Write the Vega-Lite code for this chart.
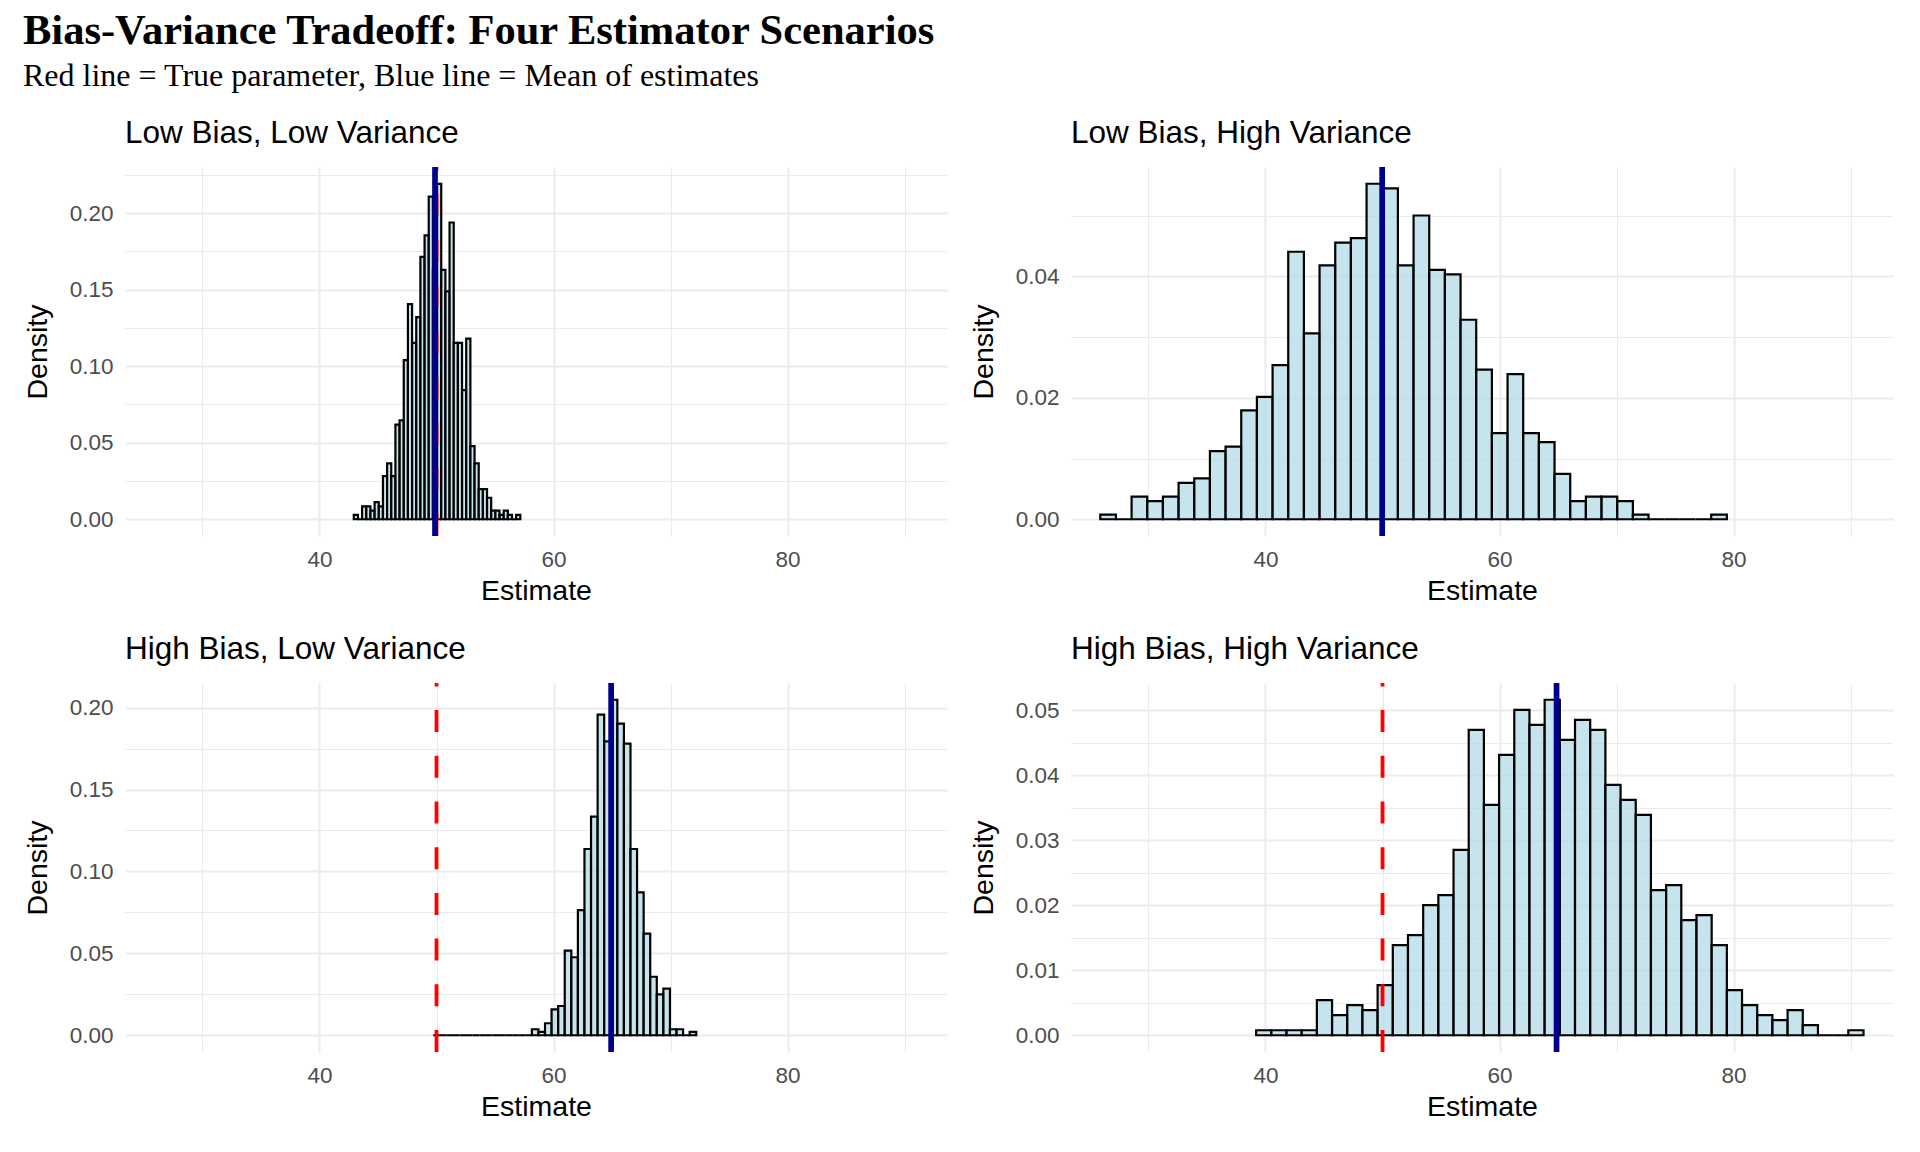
{
  "$schema": "https://vega.github.io/schema/vega-lite/v6.json",
  "background": "white",
  "padding": {"left": 23, "top": 10, "right": 10, "bottom": 10},
  "title": {
    "text": "Bias-Variance Tradeoff: Four Estimator Scenarios",
    "subtitle": "Red line = True parameter, Blue line = Mean of estimates",
    "anchor": "start",
    "frame": "bounds",
    "font": "Liberation Serif",
    "fontSize": 42.5,
    "fontWeight": "bold",
    "color": "black",
    "subtitleFont": "Liberation Serif",
    "subtitleFontSize": 32,
    "subtitleColor": "black",
    "subtitlePadding": 8,
    "offset": 26
  },
  "datasets": {
    "lines": [
      {"p": "LL", "t": 50, "m": 49.87},
      {"p": "LH", "t": 50, "m": 49.97},
      {"p": "HL", "t": 50, "m": 64.92},
      {"p": "HH", "t": 50, "m": 64.87}
    ],
    "bars": [
      {"p":"LL","x1":42.930,"x2":43.286,"d":0.00281},
      {"p":"LL","x1":43.286,"x2":43.642,"d":0},
      {"p":"LL","x1":43.642,"x2":43.997,"d":0.00843},
      {"p":"LL","x1":43.997,"x2":44.353,"d":0.00843},
      {"p":"LL","x1":44.353,"x2":44.709,"d":0.00562},
      {"p":"LL","x1":44.709,"x2":45.065,"d":0.01124},
      {"p":"LL","x1":45.065,"x2":45.421,"d":0.00843},
      {"p":"LL","x1":45.421,"x2":45.776,"d":0.02811},
      {"p":"LL","x1":45.776,"x2":46.132,"d":0.03654},
      {"p":"LL","x1":46.132,"x2":46.488,"d":0.02811},
      {"p":"LL","x1":46.488,"x2":46.844,"d":0.06183},
      {"p":"LL","x1":46.844,"x2":47.200,"d":0.06464},
      {"p":"LL","x1":47.200,"x2":47.555,"d":0.10399},
      {"p":"LL","x1":47.555,"x2":47.911,"d":0.14053},
      {"p":"LL","x1":47.911,"x2":48.267,"d":0.11523},
      {"p":"LL","x1":48.267,"x2":48.623,"d":0.1321},
      {"p":"LL","x1":48.623,"x2":48.979,"d":0.17145},
      {"p":"LL","x1":48.979,"x2":49.334,"d":0.1855},
      {"p":"LL","x1":49.334,"x2":49.690,"d":0.2108},
      {"p":"LL","x1":49.690,"x2":50.046,"d":0.16301},
      {"p":"LL","x1":50.046,"x2":50.402,"d":0.21923},
      {"p":"LL","x1":50.402,"x2":50.758,"d":0.16301},
      {"p":"LL","x1":50.758,"x2":51.113,"d":0.14896},
      {"p":"LL","x1":51.113,"x2":51.469,"d":0.19393},
      {"p":"LL","x1":51.469,"x2":51.825,"d":0.11523},
      {"p":"LL","x1":51.825,"x2":52.181,"d":0.11523},
      {"p":"LL","x1":52.181,"x2":52.537,"d":0.08432},
      {"p":"LL","x1":52.537,"x2":52.892,"d":0.11805},
      {"p":"LL","x1":52.892,"x2":53.248,"d":0.04778},
      {"p":"LL","x1":53.248,"x2":53.604,"d":0.03654},
      {"p":"LL","x1":53.604,"x2":53.960,"d":0.01967},
      {"p":"LL","x1":53.960,"x2":54.316,"d":0.01967},
      {"p":"LL","x1":54.316,"x2":54.671,"d":0.01405},
      {"p":"LL","x1":54.671,"x2":55.027,"d":0.00562},
      {"p":"LL","x1":55.027,"x2":55.383,"d":0.00562},
      {"p":"LL","x1":55.383,"x2":55.739,"d":0.00281},
      {"p":"LL","x1":55.739,"x2":56.095,"d":0.00562},
      {"p":"LL","x1":56.095,"x2":56.450,"d":0.00281},
      {"p":"LL","x1":56.450,"x2":56.806,"d":0},
      {"p":"LL","x1":56.806,"x2":57.162,"d":0.00281},

      {"p":"LH","x1":25.880,"x2":27.219,"d":0.00075},
      {"p":"LH","x1":27.219,"x2":28.557,"d":0},
      {"p":"LH","x1":28.557,"x2":29.896,"d":0.00374},
      {"p":"LH","x1":29.896,"x2":31.234,"d":0.00299},
      {"p":"LH","x1":31.234,"x2":32.573,"d":0.00374},
      {"p":"LH","x1":32.573,"x2":33.912,"d":0.00598},
      {"p":"LH","x1":33.912,"x2":35.250,"d":0.00672},
      {"p":"LH","x1":35.250,"x2":36.589,"d":0.01121},
      {"p":"LH","x1":36.589,"x2":37.927,"d":0.01195},
      {"p":"LH","x1":37.927,"x2":39.266,"d":0.01793},
      {"p":"LH","x1":39.266,"x2":40.605,"d":0.02017},
      {"p":"LH","x1":40.605,"x2":41.943,"d":0.0254},
      {"p":"LH","x1":41.943,"x2":43.282,"d":0.04408},
      {"p":"LH","x1":43.282,"x2":44.620,"d":0.03063},
      {"p":"LH","x1":44.620,"x2":45.959,"d":0.04183},
      {"p":"LH","x1":45.959,"x2":47.298,"d":0.04557},
      {"p":"LH","x1":47.298,"x2":48.636,"d":0.04632},
      {"p":"LH","x1":48.636,"x2":49.975,"d":0.05528},
      {"p":"LH","x1":49.975,"x2":51.313,"d":0.05453},
      {"p":"LH","x1":51.313,"x2":52.652,"d":0.04183},
      {"p":"LH","x1":52.652,"x2":53.991,"d":0.05005},
      {"p":"LH","x1":53.991,"x2":55.329,"d":0.04109},
      {"p":"LH","x1":55.329,"x2":56.668,"d":0.04034},
      {"p":"LH","x1":56.668,"x2":58.006,"d":0.03287},
      {"p":"LH","x1":58.006,"x2":59.345,"d":0.02465},
      {"p":"LH","x1":59.345,"x2":60.684,"d":0.01419},
      {"p":"LH","x1":60.684,"x2":62.022,"d":0.02391},
      {"p":"LH","x1":62.022,"x2":63.361,"d":0.01419},
      {"p":"LH","x1":63.361,"x2":64.699,"d":0.0127},
      {"p":"LH","x1":64.699,"x2":66.038,"d":0.00747},
      {"p":"LH","x1":66.038,"x2":67.377,"d":0.00299},
      {"p":"LH","x1":67.377,"x2":68.715,"d":0.00374},
      {"p":"LH","x1":68.715,"x2":70.054,"d":0.00374},
      {"p":"LH","x1":70.054,"x2":71.392,"d":0.00299},
      {"p":"LH","x1":71.392,"x2":72.731,"d":0.00075},
      {"p":"LH","x1":72.731,"x2":74.070,"d":0},
      {"p":"LH","x1":74.070,"x2":75.408,"d":0},
      {"p":"LH","x1":75.408,"x2":76.747,"d":0},
      {"p":"LH","x1":76.747,"x2":78.085,"d":0},
      {"p":"LH","x1":78.085,"x2":79.424,"d":0.00075},

      {"p":"HL","x1":49.720,"x2":50.282,"d":0},
      {"p":"HL","x1":50.282,"x2":50.844,"d":0},
      {"p":"HL","x1":50.844,"x2":51.405,"d":0},
      {"p":"HL","x1":51.405,"x2":51.967,"d":0},
      {"p":"HL","x1":51.967,"x2":52.529,"d":0},
      {"p":"HL","x1":52.529,"x2":53.091,"d":0},
      {"p":"HL","x1":53.091,"x2":53.653,"d":0},
      {"p":"HL","x1":53.653,"x2":54.214,"d":0},
      {"p":"HL","x1":54.214,"x2":54.776,"d":0},
      {"p":"HL","x1":54.776,"x2":55.338,"d":0},
      {"p":"HL","x1":55.338,"x2":55.900,"d":0},
      {"p":"HL","x1":55.900,"x2":56.462,"d":0},
      {"p":"HL","x1":56.462,"x2":57.023,"d":0},
      {"p":"HL","x1":57.023,"x2":57.585,"d":0},
      {"p":"HL","x1":57.585,"x2":58.147,"d":0},
      {"p":"HL","x1":58.147,"x2":58.709,"d":0.00365},
      {"p":"HL","x1":58.709,"x2":59.271,"d":0.00203},
      {"p":"HL","x1":59.271,"x2":59.832,"d":0.0073},
      {"p":"HL","x1":59.832,"x2":60.394,"d":0.0158},
      {"p":"HL","x1":60.394,"x2":60.956,"d":0.01784},
      {"p":"HL","x1":60.956,"x2":61.518,"d":0.0517},
      {"p":"HL","x1":61.518,"x2":62.080,"d":0.0476},
      {"p":"HL","x1":62.080,"x2":62.641,"d":0.0764},
      {"p":"HL","x1":62.641,"x2":63.203,"d":0.1137},
      {"p":"HL","x1":63.203,"x2":63.765,"d":0.1334},
      {"p":"HL","x1":63.765,"x2":64.327,"d":0.1957},
      {"p":"HL","x1":64.327,"x2":64.889,"d":0.1794},
      {"p":"HL","x1":64.889,"x2":65.450,"d":0.2048},
      {"p":"HL","x1":65.450,"x2":66.012,"d":0.1902},
      {"p":"HL","x1":66.012,"x2":66.574,"d":0.178},
      {"p":"HL","x1":66.574,"x2":67.136,"d":0.1137},
      {"p":"HL","x1":67.136,"x2":67.698,"d":0.0872},
      {"p":"HL","x1":67.698,"x2":68.259,"d":0.062},
      {"p":"HL","x1":68.259,"x2":68.821,"d":0.0357},
      {"p":"HL","x1":68.821,"x2":69.383,"d":0.0249},
      {"p":"HL","x1":69.383,"x2":69.945,"d":0.0284},
      {"p":"HL","x1":69.945,"x2":70.507,"d":0.00365},
      {"p":"HL","x1":70.507,"x2":71.068,"d":0.00365},
      {"p":"HL","x1":71.068,"x2":71.630,"d":0},
      {"p":"HL","x1":71.630,"x2":72.192,"d":0.00203},

      {"p":"HH","x1":39.200,"x2":40.498,"d":0.00077},
      {"p":"HH","x1":40.498,"x2":41.795,"d":0.00077},
      {"p":"HH","x1":41.795,"x2":43.093,"d":0.00077},
      {"p":"HH","x1":43.093,"x2":44.390,"d":0.00077},
      {"p":"HH","x1":44.390,"x2":45.688,"d":0.00539},
      {"p":"HH","x1":45.688,"x2":46.985,"d":0.00308},
      {"p":"HH","x1":46.985,"x2":48.283,"d":0.00462},
      {"p":"HH","x1":48.283,"x2":49.580,"d":0.00385},
      {"p":"HH","x1":49.580,"x2":50.878,"d":0.00771},
      {"p":"HH","x1":50.878,"x2":52.175,"d":0.01387},
      {"p":"HH","x1":52.175,"x2":53.473,"d":0.01541},
      {"p":"HH","x1":53.473,"x2":54.770,"d":0.02004},
      {"p":"HH","x1":54.770,"x2":56.068,"d":0.02158},
      {"p":"HH","x1":56.068,"x2":57.365,"d":0.02852},
      {"p":"HH","x1":57.365,"x2":58.663,"d":0.04701},
      {"p":"HH","x1":58.663,"x2":59.960,"d":0.03545},
      {"p":"HH","x1":59.960,"x2":61.258,"d":0.04316},
      {"p":"HH","x1":61.258,"x2":62.555,"d":0.0501},
      {"p":"HH","x1":62.555,"x2":63.853,"d":0.04778},
      {"p":"HH","x1":63.853,"x2":65.150,"d":0.05164},
      {"p":"HH","x1":65.150,"x2":66.448,"d":0.04547},
      {"p":"HH","x1":66.448,"x2":67.745,"d":0.04855},
      {"p":"HH","x1":67.745,"x2":69.043,"d":0.04701},
      {"p":"HH","x1":69.043,"x2":70.340,"d":0.03854},
      {"p":"HH","x1":70.340,"x2":71.638,"d":0.03622},
      {"p":"HH","x1":71.638,"x2":72.935,"d":0.03391},
      {"p":"HH","x1":72.935,"x2":74.233,"d":0.02235},
      {"p":"HH","x1":74.233,"x2":75.530,"d":0.02312},
      {"p":"HH","x1":75.530,"x2":76.828,"d":0.01773},
      {"p":"HH","x1":76.828,"x2":78.125,"d":0.0185},
      {"p":"HH","x1":78.125,"x2":79.423,"d":0.01387},
      {"p":"HH","x1":79.423,"x2":80.720,"d":0.00694},
      {"p":"HH","x1":80.720,"x2":82.018,"d":0.00462},
      {"p":"HH","x1":82.018,"x2":83.315,"d":0.00308},
      {"p":"HH","x1":83.315,"x2":84.613,"d":0.00231},
      {"p":"HH","x1":84.613,"x2":85.910,"d":0.00385},
      {"p":"HH","x1":85.910,"x2":87.208,"d":0.00154},
      {"p":"HH","x1":87.208,"x2":88.505,"d":0},
      {"p":"HH","x1":88.505,"x2":89.803,"d":0},
      {"p":"HH","x1":89.803,"x2":91.100,"d":0.00077}
    ]
  },
  "columns": 2,
  "spacing": {"row": 28, "column": 22},
  "concat": [
    {
      "title": {"text": "Low Bias, Low Variance"},
      "width": 822, "height": 369,
      "layer": [
        {
          "data": {"name": "bars"},
          "transform": [{"filter": "datum.p === 'LL'"}],
          "mark": {"type": "rect", "fill": "#ADD8E6", "fillOpacity": 0.7, "stroke": "black", "strokeWidth": 2.2},
          "encoding": {
            "x": {"field": "x1", "type": "quantitative", "scale": {"domain": [23.38, 93.62], "nice": false, "zero": false},
                  "axis": {"title": "Estimate", "values": [30, 40, 50, 60, 70, 80, 90], "labelExpr": "datum.value % 20 == 0 ? datum.label : ''", "gridWidth": {"condition": {"test": "datum.value % 20 == 0", "value": 2}, "value": 1}}},
            "x2": {"field": "x2"},
            "y": {"field": "d", "type": "quantitative", "scale": {"domain": [-0.01096, 0.2302], "nice": false, "zero": false},
                  "axis": {"title": "Density", "format": ".2f", "values": [0, 0.025, 0.05, 0.075, 0.1, 0.125, 0.15, 0.175, 0.2, 0.225], "labelExpr": "round(datum.value * 1000) % 50 == 0 ? datum.label : ''", "gridWidth": {"condition": {"test": "round(datum.value * 1000) % 50 == 0", "value": 2}, "value": 1}}},
            "y2": {"datum": 0}
          }
        },
        {
          "data": {"name": "lines"},
          "transform": [{"filter": "datum.p === 'LL'"}],
          "mark": {"type": "rule", "color": "#FF0000", "strokeWidth": 3.8, "strokeDash": [22, 23.7], "strokeDashOffset": 18.6},
          "encoding": {"x": {"field": "t", "type": "quantitative", "scale": {"domain": [23.38, 93.62], "nice": false, "zero": false}}}
        },
        {
          "data": {"name": "lines"},
          "transform": [{"filter": "datum.p === 'LL'"}],
          "mark": {"type": "rule", "color": "#00008B", "strokeWidth": 5.7},
          "encoding": {"x": {"field": "m", "type": "quantitative", "scale": {"domain": [23.38, 93.62], "nice": false, "zero": false}}}
        }
      ]
    },
    {
      "title": {"text": "Low Bias, High Variance"},
      "width": 822, "height": 369,
      "layer": [
        {
          "data": {"name": "bars"},
          "transform": [{"filter": "datum.p === 'LH'"}],
          "mark": {"type": "rect", "fill": "#ADD8E6", "fillOpacity": 0.7, "stroke": "black", "strokeWidth": 2.2},
          "encoding": {
            "x": {"field": "x1", "type": "quantitative", "scale": {"domain": [23.38, 93.62], "nice": false, "zero": false},
                  "axis": {"title": "Estimate", "values": [30, 40, 50, 60, 70, 80, 90], "labelExpr": "datum.value % 20 == 0 ? datum.label : ''", "gridWidth": {"condition": {"test": "datum.value % 20 == 0", "value": 2}, "value": 1}}},
            "x2": {"field": "x2"},
            "y": {"field": "d", "type": "quantitative", "scale": {"domain": [-0.002764, 0.058044], "nice": false, "zero": false},
                  "axis": {"title": "Density", "format": ".2f", "values": [0, 0.01, 0.02, 0.03, 0.04, 0.05], "labelExpr": "round(datum.value * 1000) % 20 == 0 ? datum.label : ''", "gridWidth": {"condition": {"test": "round(datum.value * 1000) % 20 == 0", "value": 2}, "value": 1}}},
            "y2": {"datum": 0}
          }
        },
        {
          "data": {"name": "lines"},
          "transform": [{"filter": "datum.p === 'LH'"}],
          "mark": {"type": "rule", "color": "#FF0000", "strokeWidth": 3.8, "strokeDash": [22, 23.7], "strokeDashOffset": 18.6},
          "encoding": {"x": {"field": "t", "type": "quantitative", "scale": {"domain": [23.38, 93.62], "nice": false, "zero": false}}}
        },
        {
          "data": {"name": "lines"},
          "transform": [{"filter": "datum.p === 'LH'"}],
          "mark": {"type": "rule", "color": "#00008B", "strokeWidth": 5.7},
          "encoding": {"x": {"field": "m", "type": "quantitative", "scale": {"domain": [23.38, 93.62], "nice": false, "zero": false}}}
        }
      ]
    },
    {
      "title": {"text": "High Bias, Low Variance"},
      "width": 822, "height": 369,
      "layer": [
        {
          "data": {"name": "bars"},
          "transform": [{"filter": "datum.p === 'HL'"}],
          "mark": {"type": "rect", "fill": "#ADD8E6", "fillOpacity": 0.7, "stroke": "black", "strokeWidth": 2.2},
          "encoding": {
            "x": {"field": "x1", "type": "quantitative", "scale": {"domain": [23.38, 93.62], "nice": false, "zero": false},
                  "axis": {"title": "Estimate", "values": [30, 40, 50, 60, 70, 80, 90], "labelExpr": "datum.value % 20 == 0 ? datum.label : ''", "gridWidth": {"condition": {"test": "datum.value % 20 == 0", "value": 2}, "value": 1}}},
            "x2": {"field": "x2"},
            "y": {"field": "d", "type": "quantitative", "scale": {"domain": [-0.01024, 0.21504], "nice": false, "zero": false},
                  "axis": {"title": "Density", "format": ".2f", "values": [0, 0.025, 0.05, 0.075, 0.1, 0.125, 0.15, 0.175, 0.2], "labelExpr": "round(datum.value * 1000) % 50 == 0 ? datum.label : ''", "gridWidth": {"condition": {"test": "round(datum.value * 1000) % 50 == 0", "value": 2}, "value": 1}}},
            "y2": {"datum": 0}
          }
        },
        {
          "data": {"name": "lines"},
          "transform": [{"filter": "datum.p === 'HL'"}],
          "mark": {"type": "rule", "color": "#FF0000", "strokeWidth": 3.8, "strokeDash": [22, 23.7], "strokeDashOffset": 18.6},
          "encoding": {"x": {"field": "t", "type": "quantitative", "scale": {"domain": [23.38, 93.62], "nice": false, "zero": false}}}
        },
        {
          "data": {"name": "lines"},
          "transform": [{"filter": "datum.p === 'HL'"}],
          "mark": {"type": "rule", "color": "#00008B", "strokeWidth": 5.7},
          "encoding": {"x": {"field": "m", "type": "quantitative", "scale": {"domain": [23.38, 93.62], "nice": false, "zero": false}}}
        }
      ]
    },
    {
      "title": {"text": "High Bias, High Variance"},
      "width": 822, "height": 369,
      "layer": [
        {
          "data": {"name": "bars"},
          "transform": [{"filter": "datum.p === 'HH'"}],
          "mark": {"type": "rect", "fill": "#ADD8E6", "fillOpacity": 0.7, "stroke": "black", "strokeWidth": 2.2},
          "encoding": {
            "x": {"field": "x1", "type": "quantitative", "scale": {"domain": [23.38, 93.62], "nice": false, "zero": false},
                  "axis": {"title": "Estimate", "values": [30, 40, 50, 60, 70, 80, 90], "labelExpr": "datum.value % 20 == 0 ? datum.label : ''", "gridWidth": {"condition": {"test": "datum.value % 20 == 0", "value": 2}, "value": 1}}},
            "x2": {"field": "x2"},
            "y": {"field": "d", "type": "quantitative", "scale": {"domain": [-0.002582, 0.054222], "nice": false, "zero": false},
                  "axis": {"title": "Density", "format": ".2f", "values": [0, 0.005, 0.01, 0.015, 0.02, 0.025, 0.03, 0.035, 0.04, 0.045, 0.05], "labelExpr": "round(datum.value * 1000) % 10 == 0 ? datum.label : ''", "gridWidth": {"condition": {"test": "round(datum.value * 1000) % 10 == 0", "value": 2}, "value": 1}}},
            "y2": {"datum": 0}
          }
        },
        {
          "data": {"name": "lines"},
          "transform": [{"filter": "datum.p === 'HH'"}],
          "mark": {"type": "rule", "color": "#FF0000", "strokeWidth": 3.8, "strokeDash": [22, 23.7], "strokeDashOffset": 18.6},
          "encoding": {"x": {"field": "t", "type": "quantitative", "scale": {"domain": [23.38, 93.62], "nice": false, "zero": false}}}
        },
        {
          "data": {"name": "lines"},
          "transform": [{"filter": "datum.p === 'HH'"}],
          "mark": {"type": "rule", "color": "#00008B", "strokeWidth": 5.7},
          "encoding": {"x": {"field": "m", "type": "quantitative", "scale": {"domain": [23.38, 93.62], "nice": false, "zero": false}}}
        }
      ]
    }
  ],
  "config": {
    "view": {"stroke": null},
    "title": {"anchor": "start", "frame": "group", "font": "Liberation Sans", "fontSize": 31.5, "fontWeight": "normal", "color": "black", "offset": 15},
    "axis": {
      "domain": false,
      "ticks": false,
      "gridColor": "#EBEBEB",
      "labelFont": "Liberation Sans",
      "labelFontSize": 22.5,
      "labelColor": "#4D4D4D",
      "titleFont": "Liberation Sans",
      "titleFontSize": 28.5,
      "titleFontWeight": "normal",
      "titleColor": "black"
    },
    "axisX": {"labelPadding": 12, "titlePadding": 6, "labelFlush": false},
    "axisY": {"labelPadding": 12, "minExtent": 60, "maxExtent": 60, "titlePadding": 13}
  }
}
